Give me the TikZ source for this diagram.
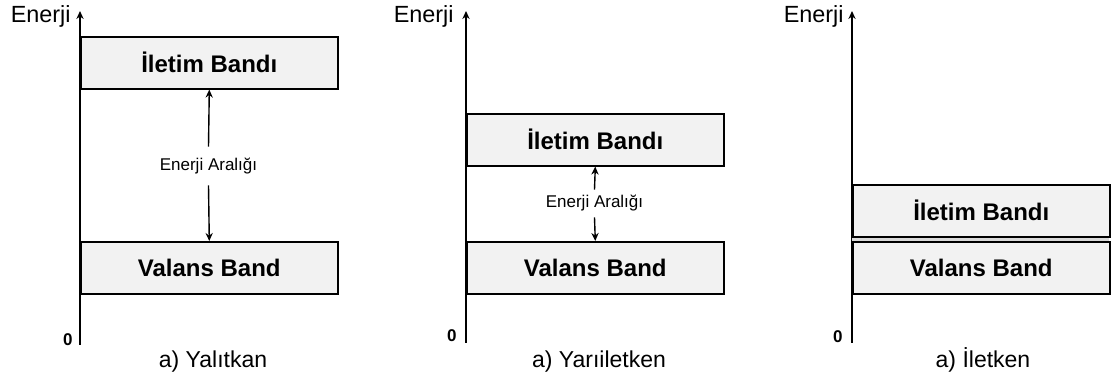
\documentclass[tikz,border=0pt]{standalone}
\usepackage{fontspec}
\setmainfont{Liberation Sans}
\usetikzlibrary{arrows.meta}

\begin{document}
\begin{tikzpicture}[x=0.5pt,y=-0.5pt,
        >={Stealth[length=4pt,width=3.6pt]},
        axis/.style={line width=0.7pt,->},
        gap/.style={line width=0.7pt,->},
        band/.style={draw,line width=0.8pt,fill=black!5,anchor=north west,
            minimum width=128.5pt,minimum height=26pt,inner sep=0pt,
            font=\bfseries\fontsize{12}{14}\selectfont},
        axlabel/.style={anchor=east,inner sep=0pt,font=\fontsize{11.7}{14}\selectfont},
        zero/.style={anchor=east,inner sep=0pt,font=\bfseries\fontsize{8.5}{10}\selectfont},
        gaplabel/.style={inner sep=0pt,font=\fontsize{8.5}{10}\selectfont},
        caption/.style={inner sep=0pt,font=\fontsize{11.5}{14}\selectfont}]
        \useasboundingbox (0,0) rectangle (1116,378);

        % Axes
        \coordinate (o1) at (80,345);  \coordinate (t1) at (80,11);
        \coordinate (o2) at (466,343); \coordinate (t2) at (466,11);
        \coordinate (o3) at (852,343); \coordinate (t3) at (852,11);
        \draw[axis] (o1) -- (t1);
        \draw[axis] (o2) -- (t2);
        \draw[axis] (o3) -- (t3);
        \node[axlabel] (en1) at (71,16) {Enerji};
        \node[axlabel] (en2) at (454,16) {Enerji};
        \node[axlabel] (en3) at (844,16) {Enerji};
        \node[zero] (z1) at (73,340) {0};
        \node[zero] (z2) at (457,336) {0};
        \node[zero] (z3) at (843,337) {0};

        % Yalitkan
        \node[band] (ib1) at (80,36) {İletim Bandı};
        \node[band] (vb1) at (80,241) {Valans Band};
        \node[gaplabel,minimum height=19pt] (gl1) at (208.5,166) {Enerji Aralığı};
        \draw[gap] (gl1.north) -- (ib1.south);
        \draw[gap] (gl1.south) -- (vb1.north);

        % Yariiletken
        \node[band] (ib2) at (466,113) {İletim Bandı};
        \node[band] (vb2) at (466,241) {Valans Band};
        \node[gaplabel,minimum height=13.5pt] (gl2) at (594.5,203.5) {Enerji Aralığı};
        \draw[gap] (gl2.north) -- (ib2.south);
        \draw[gap] (gl2.south) -- (vb2.north);

        % Iletken
        \fill[black!15] (852,235) rectangle (1109,242);
        \node[band] (ib3) at (852,184) {İletim Bandı};
        \node[band] (vb3) at (852,241) {Valans Band};

        % Captions
        \node[caption] (c1) at (213,362) {a) Yalıtkan};
        \node[caption] (c2) at (599,362) {a) Yarıiletken};
        \node[caption] (c3) at (983,360) {a) İletken};
    \end{tikzpicture}
\end{document}
